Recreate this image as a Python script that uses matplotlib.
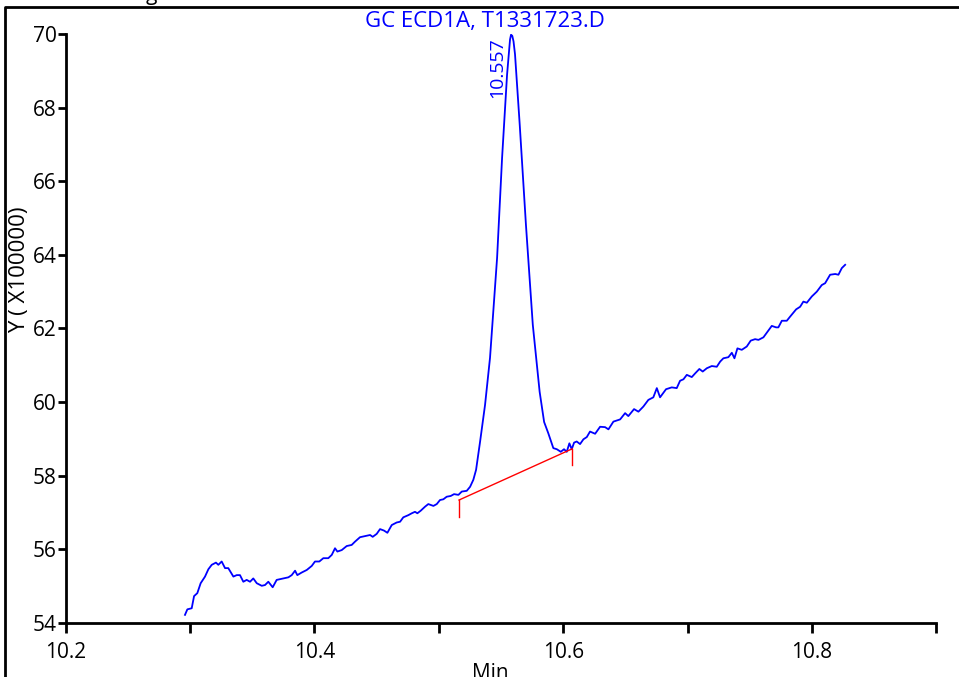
import numpy as np
import matplotlib
matplotlib.use("Agg")
import matplotlib.pyplot as plt
from matplotlib.ticker import FixedLocator, FuncFormatter

plt.rcParams['font.family'] = ['Open Sans', 'DejaVu Sans']

# retention time (min) and detector signal (x100000)
time = [
    10.2959, 10.2978, 10.3013, 10.3032, 10.3058, 10.3085, 10.3120, 10.3147, 10.3174, 10.3208,
    10.3227, 10.3254, 10.3281, 10.3307, 10.3348, 10.3375, 10.3401, 10.3428, 10.3455, 10.3482,
    10.3508, 10.3536, 10.3576, 10.3602, 10.3629, 10.3664, 10.3696, 10.3750, 10.3790, 10.3817,
    10.3844, 10.3862, 10.3897, 10.3938, 10.3978, 10.4004, 10.4039, 10.4071, 10.4111, 10.4139,
    10.4165, 10.4184, 10.4219, 10.4259, 10.4299, 10.4326, 10.4366, 10.4406, 10.4447, 10.4468,
    10.4500, 10.4527, 10.4559, 10.4586, 10.4621, 10.4661, 10.4688, 10.4714, 10.4755, 10.4782,
    10.4808, 10.4827, 10.4854, 10.4889, 10.4915, 10.4956, 10.4983, 10.5009, 10.5036, 10.5063,
    10.5095, 10.5122, 10.5157, 10.5184, 10.5224, 10.5251, 10.5277,
    10.5299, 10.5331, 10.5371, 10.5411, 10.5468, 10.5508, 10.5548, 10.5564, 10.5572, 10.5580,
    10.5590, 10.5600, 10.5612, 10.5650, 10.5700, 10.5755, 10.5810, 10.5846, 10.5880, 10.5920,
    10.5948, 10.5980, 10.6006, 10.6028, 10.6049, 10.6068, 10.6087, 10.6108, 10.6135, 10.6162,
    10.6189, 10.6215, 10.6256, 10.6296, 10.6336, 10.6363, 10.6403, 10.6457, 10.6497, 10.6523,
    10.6569, 10.6604, 10.6644, 10.6684, 10.6724, 10.6752, 10.6778, 10.6826, 10.6872, 10.6912,
    10.6939, 10.6966, 10.6993, 10.7033, 10.7060, 10.7094, 10.7121, 10.7154, 10.7194, 10.7234,
    10.7261, 10.7287, 10.7327, 10.7355, 10.7376, 10.7400, 10.7435, 10.7475, 10.7507, 10.7542,
    10.7569, 10.7609, 10.7641, 10.7676, 10.7711, 10.7729, 10.7757, 10.7797, 10.7823, 10.7872,
    10.7904, 10.7930, 10.7958, 10.7998, 10.8038, 10.8078, 10.8105, 10.8145, 10.8186, 10.8212,
    10.8239, 10.8266,
]
signal = [
    54.22, 54.37, 54.40, 54.73, 54.81, 55.08, 55.26, 55.46, 55.58, 55.64,
    55.58, 55.67, 55.49, 55.49, 55.26, 55.30, 55.30, 55.12, 55.17, 55.12,
    55.21, 55.08, 55.01, 55.03, 55.12, 54.97, 55.17, 55.21, 55.24, 55.30,
    55.42, 55.30, 55.37, 55.44, 55.55, 55.67, 55.67, 55.76, 55.76, 55.85,
    56.03, 55.94, 55.98, 56.09, 56.12, 56.21, 56.33, 56.36, 56.39, 56.34,
    56.42, 56.55, 56.51, 56.45, 56.66, 56.73, 56.75, 56.87, 56.93, 56.98,
    57.02, 56.98, 57.05, 57.16, 57.23, 57.18, 57.23, 57.34, 57.36, 57.43,
    57.45, 57.50, 57.48, 57.57, 57.59, 57.70, 57.89,
    58.16, 58.92, 59.92, 61.20, 63.92, 66.63, 68.89, 69.55, 69.85, 69.98,
    69.95, 69.80, 69.45, 67.53, 64.81, 62.10, 60.28, 59.46, 59.15, 58.75,
    58.72, 58.65, 58.72, 58.65, 58.88, 58.72, 58.90, 58.93, 58.86, 58.99,
    59.05, 59.20, 59.14, 59.33, 59.32, 59.26, 59.47, 59.53, 59.70, 59.62,
    59.81, 59.74, 59.88, 60.06, 60.13, 60.38, 60.13, 60.35, 60.40, 60.38,
    60.58, 60.62, 60.74, 60.68, 60.78, 60.90, 60.83, 60.92, 60.98, 60.96,
    61.10, 61.19, 61.22, 61.34, 61.19, 61.46, 61.42, 61.51, 61.67, 61.71,
    61.69, 61.76, 61.91, 62.07, 62.03, 62.03, 62.21, 62.21, 62.32, 62.52,
    62.59, 62.73, 62.70, 62.87, 63.00, 63.18, 63.23, 63.46, 63.48, 63.46,
    63.64, 63.73,
]

# integration baseline of the peak
base_t = [10.5162, 10.6071]
base_y = [57.34, 58.73]
base_drop = 0.45

peak_time = 10.558
peak_height = 69.98
peak_label = "10.557"

fig = plt.figure(figsize=(9.59, 6.77), dpi=100)
ax = fig.add_axes([0.0685, 0.0798, 0.908, 0.870])

ax.plot(time, signal, color="#0000ff", lw=1.3)
ax.plot(base_t, base_y, color="#ff0000", lw=1.0)
for t, y in zip(base_t, base_y):
    ax.plot([t, t], [y, y - base_drop], color="#ff0000", lw=1.0)

ax.annotate(peak_label, xy=(peak_time, peak_height), xytext=(-14, -3),
            textcoords="offset pixels", rotation=90, ha="center", va="top",
            color="#0000ff", fontsize=14)

ax.set_xlim(10.2, 10.9)
ax.set_ylim(54, 70)
ax.xaxis.set_major_locator(FixedLocator([10.2, 10.3, 10.4, 10.5, 10.6, 10.7, 10.8, 10.9]))
ax.xaxis.set_major_formatter(FuncFormatter(
    lambda v, p: f"{v:.1f}" if round(v * 10) % 2 == 0 and v < 10.85 else ""))
ax.yaxis.set_major_locator(FixedLocator(np.arange(54, 71, 2)))

for s in ["top", "right"]:
    ax.spines[s].set_visible(False)
for s in ["left", "bottom"]:
    ax.spines[s].set_linewidth(2)
ax.tick_params(axis="x", length=7, width=2, pad=7, labelsize=15)
ax.tick_params(axis="y", length=6, width=2, pad=0.5, labelsize=15)

fig.text(485 / 959, 1 - 22 / 677, "GC ECD1A, T1331723.D", color="#0000ff",
         fontsize=16, ha="center", va="center")
fig.text(20 / 959, 1 - 270 / 677, "Y ( X100000)", rotation=90,
         fontsize=16, ha="center", va="center")
fig.text(490 / 959, 1 - 663 / 677, "Min", fontsize=15, ha="center", va="top")
fig.text(151 / 959, 1.0, "g", fontsize=15, ha="center", va="baseline")

# outer frame of the report page
fig.add_artist(plt.Line2D([4.5 / 959, 4.5 / 959, 1.0], [0.0, 1 - 7 / 677, 1 - 7 / 677],
                          transform=fig.transFigure, color="black", lw=2))

fig.savefig("out.png", dpi=100)
